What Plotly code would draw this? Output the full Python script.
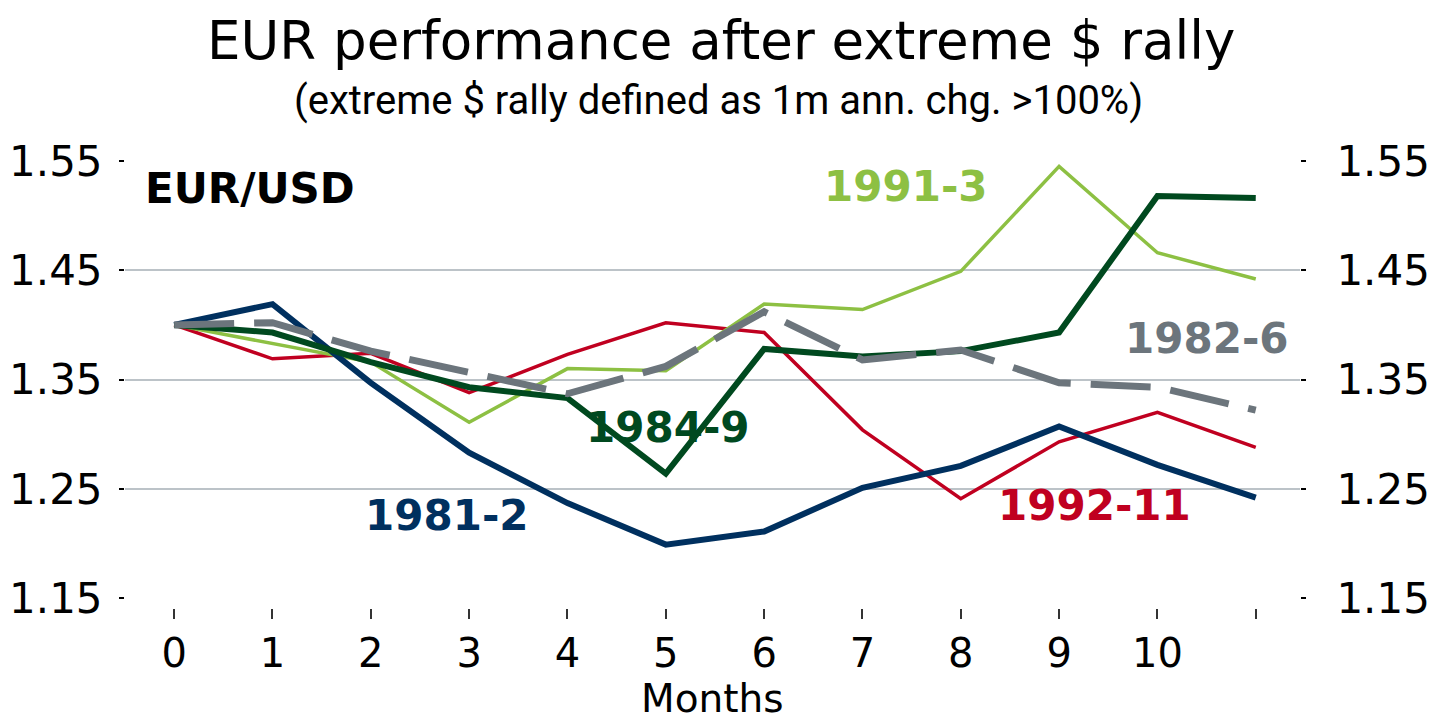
import plotly.graph_objects as go

months = list(range(12))
month_labels = ['0', '1', '2', '3', '4', '5', '6', '7', '8', '9', '10', '']
y_ticks = [1.15, 1.25, 1.35, 1.45, 1.55]
grid_ticks = [1.25, 1.35, 1.45]

eur_1981_2 = [1.400, 1.419, 1.347, 1.283, 1.237, 1.199, 1.211, 1.251, 1.271, 1.307, 1.272, 1.242]
eur_1982_6 = [1.400, 1.402, 1.376, 1.356, 1.337, 1.362, 1.412, 1.368, 1.377, 1.347, 1.343, 1.322]
eur_1984_9 = [1.400, 1.393, 1.366, 1.343, 1.333, 1.264, 1.378, 1.371, 1.376, 1.393, 1.518, 1.516]
eur_1991_3 = [1.400, 1.383, 1.366, 1.311, 1.360, 1.358, 1.419, 1.414, 1.449, 1.545, 1.466, 1.442]
eur_1992_11 = [1.400, 1.369, 1.374, 1.338, 1.373, 1.402, 1.393, 1.304, 1.241, 1.293, 1.320, 1.288]

NAVY = '#00305F'
DKGREEN = '#00491F'
LTGREEN = '#8DC043'
RED = '#C00020'
GREY = '#6C757C'

FONT = 'DejaVu Sans'

series = [
  ('1992-11', eur_1992_11, dict(color=RED, width=3.5)),
  ('1991-3', eur_1991_3, dict(color=LTGREEN, width=3.5)),
  ('1981-2', eur_1981_2, dict(color=NAVY, width=6)),
  ('1984-9', eur_1984_9, dict(color=DKGREEN, width=6)),
  ('1982-6', eur_1982_6, dict(color=GREY, width=7, dash='60px,20px')),
]

fig = go.Figure()

# invisible trace just to carry the horizontal gridlines
fig.add_trace(go.Scatter(x=months, y=eur_1981_2, yaxis='y3', mode='none',
                         showlegend=False, hoverinfo='skip'))

for name, vals, line in series:
  fig.add_trace(go.Scatter(x=months, y=vals, name=name, mode='lines',
                           line=line, showlegend=False))

# same values on the right axis so the right labels exist
fig.add_trace(go.Scatter(x=months, y=eur_1981_2, yaxis='y2', mode='none',
                         showlegend=False, hoverinfo='skip'))

labels = [
  ('EUR/USD', 0.77, 1.525, 'black'),
  ('1991-3', 7.44, 1.527, LTGREEN),
  ('1982-6', 10.50, 1.388, GREY),
  ('1984-9', 5.02, 1.306, DKGREEN),
  ('1981-2', 2.77, 1.226, NAVY),
  ('1992-11', 9.36, 1.235, RED),
]
for text, x, y, col in labels:
  fig.add_annotation(x=x, y=y, text=text, showarrow=False,
                     font=dict(family=FONT, size=42, color=col, weight='bold'))

fig.add_annotation(text='(extreme $ rally defined as 1m ann. chg. >100%)',
                   xref='paper', yref='paper', x=0.505, y=1.109,
                   xanchor='center', yanchor='middle', showarrow=False,
                   font=dict(family='Roboto', size=40, color='black'))

# x axis title as an annotation so it can sit right at the bottom edge
fig.add_annotation(text='Months', xref='paper', yref='paper', x=0.5, y=-0.2511,
                   xanchor='center', yanchor='bottom', showarrow=False,
                   font=dict(family=FONT, size=39, color='black'))

yrange = [1.141, 1.56]
tick_common = dict(
  range=yrange,
  tickvals=y_ticks,
  ticktext=['%.2f' % v for v in y_ticks],
  showgrid=False,
  zeroline=False,
  showline=False,
  automargin=False,
  ticks='outside',
  ticklen=5,
  tickwidth=1.5,
  tickcolor='black',
  tickfont=dict(family=FONT, size=42, color='black'),
)

# page body has an 8px margin, so the figure is drawn 8px smaller and shifted
fig.update_layout(
  width=1435,
  height=715,
  title=dict(
    text='EUR performance after extreme $ rally',
    x=0.497,
    xanchor='center',
    y=1 - 32 / 715,
    yanchor='middle',
    font=dict(family=FONT, size=53, color='black'),
  ),
  paper_bgcolor='white',
  plot_bgcolor='white',
  margin=dict(l=117, r=143, t=142, b=115, pad=0),
  xaxis=dict(
    range=[-0.5, 11.45],
    tickvals=months,
    ticktext=month_labels,
    showgrid=False,
    zeroline=False,
    showline=False,
    automargin=False,
    ticks='outside',
    ticklen=10,
    tickwidth=1.5,
    tickcolor='#333333',
    ticklabelstandoff=0,
    tickfont=dict(family=FONT, size=40, color='black'),
  ),
  yaxis=dict(ticklabelstandoff=8, **tick_common),
  yaxis2=dict(overlaying='y', side='right', ticklabelstandoff=22, **tick_common),
  yaxis3=dict(
    overlaying='y',
    range=yrange,
    tickvals=grid_ticks,
    showticklabels=False,
    ticks='',
    showgrid=True,
    gridcolor='#BCC3C8',
    gridwidth=1.5,
    zeroline=False,
    automargin=False,
  ),
)

fig.write_html('out.html')
